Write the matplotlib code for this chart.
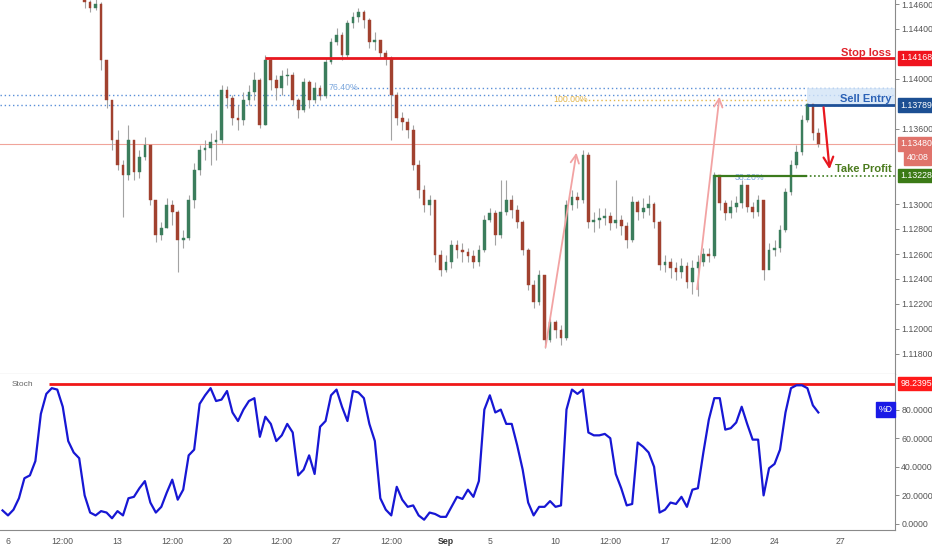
import matplotlib
matplotlib.use("Agg")
import matplotlib.pyplot as plt
import matplotlib.transforms as mtransforms

# ---------------- data ----------------
bar_start = 14          # index of first visible 6h candle (bar 0 = Mon Aug 6)
first_open = 1.14650
close = [1.14616, 1.14568, 1.14600, 1.14152, 1.13832, 1.13512, 1.13312, 1.13232, 1.13512, 1.13256,
         1.13376, 1.13472, 1.13032, 1.12752, 1.12808, 1.12992, 1.12936, 1.12712, 1.12728, 1.13032,
         1.13272, 1.13432, 1.13448, 1.13496, 1.13512, 1.13912, 1.13848, 1.13688, 1.13672, 1.13832,
         1.13896, 1.13992, 1.13632, 1.14152, 1.13992, 1.13928, 1.14024, 1.14032, 1.13832, 1.13752,
         1.13976, 1.13832, 1.13928, 1.13864, 1.14136, 1.14296, 1.14352, 1.14192, 1.14448, 1.14496,
         1.14536, 1.14472, 1.14296, 1.14312, 1.14208, 1.14168, 1.13872, 1.13688, 1.13656, 1.13592,
         1.13312, 1.13112, 1.12992, 1.13032, 1.12592, 1.12472, 1.12536, 1.12672, 1.12632, 1.12616,
         1.12584, 1.12536, 1.12632, 1.12872, 1.12928, 1.12752, 1.12936, 1.13032, 1.12952, 1.12856,
         1.12632, 1.12352, 1.12216, 1.12432, 1.11912, 1.12056, 1.11992, 1.11928, 1.12992, 1.13056,
         1.13032, 1.13392, 1.12856, 1.12872, 1.12888, 1.12904, 1.12848, 1.12872, 1.12824, 1.12712,
         1.13016, 1.12936, 1.12968, 1.13000, 1.12856, 1.12512, 1.12536, 1.12488, 1.12456, 1.12504,
         1.12376, 1.12488, 1.12536, 1.12600, 1.12584, 1.13232, 1.13008, 1.12928, 1.12976, 1.13008,
         1.13152, 1.12976, 1.12936, 1.13032, 1.12472, 1.12632, 1.12648, 1.12792, 1.13096, 1.13312,
         1.13416, 1.13672, 1.13800, 1.13568, 1.13480]
high = [1.14712, 1.14632, 1.14664, 1.14616, 1.14112, 1.13832, 1.13592, 1.13352, 1.13632, 1.13512,
        1.13432, 1.13536, 1.13472, 1.12992, 1.12856, 1.13048, 1.13032, 1.12952, 1.12792, 1.13072,
        1.13328, 1.13472, 1.13512, 1.13568, 1.13592, 1.13952, 1.13944, 1.13872, 1.13792, 1.13896,
        1.13952, 1.14056, 1.14008, 1.14192, 1.14168, 1.14032, 1.14072, 1.14088, 1.14056, 1.13848,
        1.14008, 1.13992, 1.13976, 1.13952, 1.14168, 1.14328, 1.14408, 1.14376, 1.14472, 1.14536,
        1.14568, 1.14552, 1.14488, 1.14376, 1.14312, 1.14232, 1.14184, 1.13896, 1.13736, 1.13688,
        1.13632, 1.13352, 1.13152, 1.13072, 1.13032, 1.12632, 1.12592, 1.12712, 1.12712, 1.12688,
        1.12648, 1.12632, 1.12672, 1.12912, 1.12968, 1.12952, 1.13192, 1.13192, 1.13072, 1.12992,
        1.12872, 1.12648, 1.12392, 1.12472, 1.12432, 1.12088, 1.12072, 1.12032, 1.13032, 1.13112,
        1.13096, 1.13432, 1.13416, 1.12936, 1.12968, 1.12968, 1.12936, 1.13192, 1.12912, 1.12856,
        1.13064, 1.13032, 1.13048, 1.13072, 1.13016, 1.12872, 1.12592, 1.12568, 1.12536, 1.12568,
        1.12536, 1.12552, 1.12592, 1.12648, 1.12648, 1.13256, 1.13224, 1.13032, 1.13032, 1.13064,
        1.13192, 1.13152, 1.13016, 1.13072, 1.13032, 1.12688, 1.12712, 1.12832, 1.13128, 1.13352,
        1.13472, 1.13712, 1.13808, 1.13800, 1.13608]
low = [1.14568, 1.14536, 1.14552, 1.14072, 1.13768, 1.13432, 1.13272, 1.12896, 1.13192, 1.13192,
       1.13208, 1.13352, 1.12992, 1.12696, 1.12712, 1.12808, 1.12832, 1.12456, 1.12648, 1.12712,
       1.12968, 1.13232, 1.13352, 1.13312, 1.13352, 1.13488, 1.13768, 1.13632, 1.13592, 1.13632,
       1.13792, 1.13832, 1.13608, 1.13632, 1.13912, 1.13832, 1.13872, 1.13952, 1.13792, 1.13688,
       1.13736, 1.13768, 1.13808, 1.13832, 1.13848, 1.14120, 1.14272, 1.14152, 1.14168, 1.14408,
       1.14456, 1.14408, 1.14248, 1.14232, 1.14168, 1.14112, 1.13512, 1.13632, 1.13592, 1.13528,
       1.13272, 1.13048, 1.12936, 1.12912, 1.12536, 1.12424, 1.12456, 1.12488, 1.12568, 1.12536,
       1.12536, 1.12488, 1.12504, 1.12616, 1.12856, 1.12672, 1.12728, 1.12912, 1.12888, 1.12808,
       1.12592, 1.12312, 1.12168, 1.12192, 1.11848, 1.11896, 1.11928, 1.11872, 1.11912, 1.12952,
       1.12968, 1.13008, 1.12808, 1.12776, 1.12808, 1.12832, 1.12792, 1.12808, 1.12752, 1.12648,
       1.12696, 1.12872, 1.12888, 1.12912, 1.12808, 1.12472, 1.12456, 1.12408, 1.12392, 1.12408,
       1.12328, 1.12280, 1.12264, 1.12504, 1.12536, 1.12568, 1.12952, 1.12872, 1.12888, 1.12936,
       1.12968, 1.12936, 1.12888, 1.12904, 1.12392, 1.12536, 1.12584, 1.12616, 1.12776, 1.13072,
       1.13288, 1.13392, 1.13656, 1.13512, 1.13456]

stoch_start = -1
stoch_d = [9.5, 6, 10, 18, 32, 34, 44, 77, 91, 95, 94, 82, 58, 50, 46, 20, 8, 6, 9, 8,
           4, 9, 6, 18, 19, 25, 30, 15, 8, 12, 22, 31, 17, 24, 48, 52, 84, 90, 95, 86,
           87, 93, 78, 72, 80, 86, 88, 61, 75, 70, 58, 62, 70, 64, 34, 38, 48, 35, 68, 72,
           90, 94, 82, 72, 93, 92, 88, 70, 58, 18, 10, 6, 26, 17, 12, 13, 6, 3, 8, 7,
           5, 5, 12, 19, 17.5, 24, 19, 30, 80, 90, 78, 80, 70, 70, 55, 38, 15, 6, 12, 12,
           16, 12, 13, 80, 94, 91, 94, 64, 62, 62, 63, 60, 35, 25, 13, 14, 57, 54, 50, 40,
           8, 10, 15, 14, 19, 12, 24, 25, 50, 73, 88, 88, 66, 67, 71, 82, 70, 59, 59, 20,
           39, 42, 52, 78, 95, 97, 97, 95, 83, 78]

tick_bars = [0, 10, 20, 30, 40, 50, 60, 70, 80, 88, 100, 110, 120, 130, 140, 152]
tick_labels = ["6", "12:00", "13", "12:00", "20", "12:00", "27", "12:00", "Sep", "5",
               "10", "12:00", "17", "12:00", "24", "27"]

# price-axis ticks that are not hidden behind the coloured value boxes
price_ticks = [1.118, 1.120, 1.122, 1.124, 1.126, 1.128, 1.130,
               1.136, 1.140, 1.144, 1.146]
stoch_ticks = [0, 20, 40, 60, 80]

stop_loss = 1.14168
sell_entry = 1.13789
last_price = 1.13480
take_profit = 1.13228
stoch_level = 98.2395
countdown = "40:08"

fib_764 = 1.13928
fib_a = 1.13872
fib_100 = 1.13832
fib_b = 1.13792

# ---------------- figure ----------------
plt.rcParams["font.family"] = ["Liberation Sans", "DejaVu Sans"]
fig = plt.figure(figsize=(9.32, 5.5), dpi=100)
W = 895 / 932
ax = fig.add_axes([0, 1 - 374 / 550, W, 374 / 550])
axs = fig.add_axes([0, 20 / 550, W, 156 / 550], sharex=ax)

xmin, xmax = -1.46, 162.0
ax.set_xlim(xmin, xmax)
ax.set_ylim(1.11640, 1.14632)
axs.set_ylim(-4.2, 104.9)

gray = "#8a8a8a"
for a in (ax, axs):
    for s in ("top", "left"):
        a.spines[s].set_visible(False)
    a.spines["right"].set_color(gray)
    a.spines["bottom"].set_color(gray)
    a.yaxis.tick_right()
    a.tick_params(axis="y", direction="out", length=3, width=0.7, color=gray,
                  labelsize=6.3, labelcolor="#555555", pad=1.5)
ax.tick_params(axis="x", bottom=False, labelbottom=False)
axs.tick_params(axis="x", length=0, labelsize=6.3, labelcolor="#555555", pad=5)

ax.set_yticks(price_ticks)
ax.set_yticklabels([f"{v:.5f}" for v in price_ticks])
axs.set_yticks(stoch_ticks)
axs.set_yticklabels([f"{v:.4f}" for v in stoch_ticks])
axs.set_xticks(tick_bars)
axs.set_xticklabels(tick_labels)
for lbl in axs.get_xticklabels():
    if lbl.get_text() == "Sep":
        lbl.set_fontweight("bold")
        lbl.set_color("#333333")

# ---------------- candles ----------------
xs = [bar_start + k for k in range(len(close))]
opens = [first_open] + close[:-1]
up_c, dn_c = "#3b7d5c", "#a1412f"
cols = [up_c if c >= o else dn_c for o, c in zip(opens, close)]
ax.vlines(xs, low, high, color="#a3a3a3", lw=0.8, zorder=2)
bodies = [max(abs(c - o), 0.00003) for o, c in zip(opens, close)]
bottoms = [min(o, c) for o, c in zip(opens, close)]
ax.bar(xs, bodies, bottom=bottoms, width=0.5, color=cols, edgecolor=cols,
       linewidth=0.3, zorder=3)

# ---------------- drawings ----------------
blue_dot = "#5a8fd8"
ax.axhline(last_price, color="#f0a49a", lw=0.8, zorder=1)
ax.axhline(fib_a, color=blue_dot, lw=1.0, ls=(0, (1, 2)), zorder=1)
ax.axhline(fib_b, color=blue_dot, lw=1.0, ls=(0, (1, 2)), zorder=1)
ax.hlines(fib_764, 63.0, xmax, color=blue_dot, lw=1.0, ls=(0, (1, 2)), zorder=1)
ax.text(58.6, fib_764, "76.40%", color="#7aa6dc", fontsize=6.3, va="center", ha="left")
ax.hlines(fib_100, 104.5, 146, color="#e2b54a", lw=1.0, ls=(0, (1, 2)), zorder=1)
ax.text(99.5, fib_100, "100.00%", color="#e2b54a", fontsize=6.3, va="center", ha="left")

# sell zone
ax.fill_between([146, xmax], fib_b, fib_764, color="#d3e4f7", alpha=0.8, zorder=1, lw=0)

ax.hlines(stop_loss, 47, xmax, color="#e8171f", lw=2.0, zorder=4)
ax.hlines(sell_entry, 146, xmax, color="#1d4f97", lw=2.0, zorder=4)
ax.hlines(take_profit, 129, 146, color="#3b7a1c", lw=1.6, zorder=4)
ax.hlines(take_profit, 129, xmax, color="#3b7a1c", lw=1.2, ls=(0, (1, 1.5)), zorder=4)
ax.text(132.8, take_profit - 0.00015, "38.20%", color="#7aa6dc", fontsize=6.3,
        va="center", ha="left")

# arrows
ax.annotate("", xy=(150.1, 1.13256), xytext=(148.9, 1.13795),
            arrowprops=dict(arrowstyle="->,head_length=0.7,head_width=0.35",
                            color="#e8171f", lw=1.6), zorder=5)
pink = "#f2a3a3"
ax.annotate("", xy=(103.9, 1.13432), xytext=(98.1, 1.11832),
            arrowprops=dict(arrowstyle="->,head_length=0.6,head_width=0.3",
                            color=pink, lw=1.3), zorder=5)
ax.annotate("", xy=(130.0, 1.13880), xytext=(125.8, 1.12296),
            arrowprops=dict(arrowstyle="->,head_length=0.6,head_width=0.3",
                            color=pink, lw=1.3), zorder=5)

trm = mtransforms.blended_transform_factory(ax.transAxes, ax.transData)
ax.text(0.996, stop_loss + 0.00040, "Stop loss", transform=trm, ha="right", va="center",
        color="#e0222a", fontsize=8, fontweight="bold")
ax.text(0.996, sell_entry + 0.00054, "Sell Entry", transform=trm, ha="right", va="center",
        color="#2c62b6", fontsize=8, fontweight="bold")
ax.text(0.996, take_profit + 0.00048, "Take Profit", transform=trm, ha="right", va="center",
        color="#4b7b1e", fontsize=8, fontweight="bold")


def axis_box(a, tr, y, txt, fc, x=1.006):
    a.text(x, y, txt, transform=tr, ha="left", va="center", color="white", fontsize=6.3,
           clip_on=False, zorder=10,
           bbox=dict(boxstyle="square,pad=0.28", fc=fc, ec=fc))


axis_box(ax, trm, stop_loss, f"{stop_loss:.5f}", "#f0141e")
axis_box(ax, trm, sell_entry, f"{sell_entry:.5f}", "#1c4f93")
axis_box(ax, trm, last_price, f"{last_price:.5f}", "#e0736b")
axis_box(ax, trm, last_price - 0.00112, countdown, "#e0736b", x=1.013)
axis_box(ax, trm, take_profit, f"{take_profit:.5f}", "#3b7a16")

# ---------------- stochastic ----------------
sx = [stoch_start + k for k in range(len(stoch_d))]
axs.plot(sx, stoch_d, color="#1717d4", lw=1.6, zorder=3)
axs.hlines(stoch_level, 7.5, xmax, color="#f01818", lw=2.0, zorder=2)
trs = mtransforms.blended_transform_factory(axs.transAxes, axs.transData)
axis_box(axs, trs, stoch_level, f"{stoch_level:.4f}", "#ff1a1a")
axs.text(0.997, 80, "%D", transform=trs, ha="right", va="center", color="white",
         fontsize=6.3, zorder=10,
         bbox=dict(boxstyle="square,pad=0.3", fc="#1a1ae6", ec="#1a1ae6"))
axs.text(0.013, 0.93, "Stoch", transform=axs.transAxes, color="#666666", fontsize=6,
         ha="left", va="center")

fig.savefig("out.png", dpi=100)
